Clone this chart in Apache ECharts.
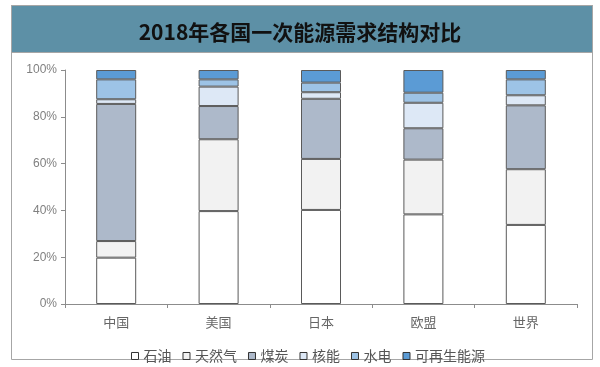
<!DOCTYPE html>
<html>
<head>
<meta charset="utf-8">
<script src="https://cdn.jsdelivr.net/npm/echarts@6/dist/echarts.min.js"></script>
<style>
html,body{margin:0;padding:0;background:#fff;}
#c{width:600px;height:367px;}
</style>
</head>
<body>
<div id="c"></div>
<script>
var titleText = '2018年各国一次能源需求结构对比';
var categories = ['中国', '美国', '日本', '欧盟', '世界'];
var seriesNames = ['石油', '天然气', '煤炭', '核能', '水电', '可再生能源'];
var oil     = [19.8, 39.7, 40.2, 38.3, 33.8];
var gas     = [7.1, 30.7, 21.8, 23.4, 23.8];
var coal    = [58.6, 14.2, 25.7, 13.4, 27.3];
var nuclear = [2.0, 8.3, 2.8, 10.9, 4.3];
var hydro   = [8.5, 3.1, 4.1, 4.3, 6.8];
var renew   = [4.0, 4.0, 5.4, 9.7, 4.0];
var yTicks = [0, 20, 40, 60, 80, 100];

var seriesData = [oil, gas, coal, nuclear, hydro, renew];
var colors = ['#ffffff', '#f2f2f2', '#adb9ca', '#dde8f6', '#9dc3e6', '#5b9bd5'];
var cjk = '"Noto Sans CJK SC", "Noto Sans", sans-serif';

var chart = echarts.init(document.getElementById('c'), null, {renderer: 'canvas'});
chart.setOption({
  animation: false,
  backgroundColor: '#ffffff',
  color: colors,
  graphic: [
    {type: 'rect', left: 11, top: 5, z: -10, shape: {width: 581, height: 354}, style: {fill: '#ffffff', stroke: '#a6a6a6', lineWidth: 1}},
    {type: 'rect', left: 11, top: 5, z: -9, shape: {width: 581, height: 47}, style: {fill: '#5d90a6', stroke: '#a6a6a6', lineWidth: 1}}
  ],
  title: {
    text: titleText,
    left: 'center',
    top: 17,
    textStyle: {fontFamily: cjk, fontSize: 21, fontWeight: 'bold', color: '#111111'}
  },
  legend: {
    data: seriesNames,
    left: 126,
    top: 344,
    itemWidth: 7,
    itemHeight: 7,
    itemGap: 11,
    icon: 'rect',
    itemStyle: {borderColor: '#333', borderWidth: 1},
    textStyle: {fontFamily: cjk, fontSize: 14, color: '#555555'}
  },
  grid: {left: 65, right: 23, top: 70, bottom: 63},
  xAxis: {
    type: 'category',
    data: categories,
    axisLine: {lineStyle: {color: '#8c8c8c', width: 1}},
    axisTick: {show: true, length: 4, lineStyle: {color: '#8c8c8c'}},
    axisLabel: {fontFamily: cjk, fontSize: 13, color: '#666666', margin: 12}
  },
  yAxis: {
    type: 'value',
    min: 0,
    max: 100,
    interval: 20,
    axisLine: {show: true, lineStyle: {color: '#8c8c8c', width: 1}},
    axisTick: {show: true, length: 4, lineStyle: {color: '#8c8c8c'}},
    splitLine: {show: false},
    axisLabel: {
      fontFamily: '"Liberation Sans", sans-serif', fontSize: 12, color: '#808080', margin: 8,
      formatter: function (v) { return yTicks.indexOf(v) >= 0 ? v + '%' : ''; }
    }
  },
  series: seriesNames.map(function (name, i) {
    return {
      name: name,
      type: 'bar',
      stack: 'total',
      barWidth: 40,
      data: seriesData[i],
      itemStyle: {color: colors[i], borderColor: '#5a5a5a', borderWidth: 1}
    };
  })
});
</script>
</body>
</html>
